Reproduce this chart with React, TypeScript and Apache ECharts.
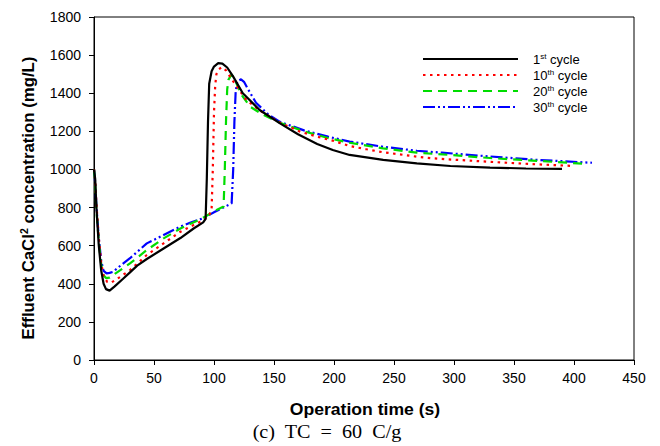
import React, { useEffect, useRef } from "react";
import * as echarts from "echarts";

const seriesNames = ["1st cycle", "10th cycle", "20th cycle", "30th cycle"];
const legendLabels = ["1{s|st} cycle", "10{s|th} cycle", "20{s|th} cycle", "30{s|th} cycle"];
const xTicks = [0, 450, 50];
const yTicks = [0, 1800, 200];

const c1x = [0, 1, 2, 4, 6, 8, 10, 13, 17, 24, 30, 36, 44, 58, 72, 83, 91, 93, 94, 95, 96, 98, 100, 103.5, 107, 111, 116, 124, 138, 155, 170, 186, 199, 213, 241, 269, 297, 330, 360, 390];
const c1y = [1000, 950, 800, 600, 470, 400, 372, 364, 385, 425, 460, 495, 530, 585, 640, 690, 722, 740, 950, 1250, 1450, 1515, 1540, 1558, 1555, 1535, 1487, 1400, 1312, 1242, 1185, 1134, 1102, 1076, 1050, 1032, 1018, 1010, 1005, 1003];

const c10x = [0, 1, 2, 4, 6, 8, 11, 14, 18, 22, 30, 44, 58, 72, 85, 91, 96, 98, 99, 100, 101, 102, 104, 106.5, 110, 116, 127, 138, 155, 172, 186, 199, 213, 227, 241, 255, 269, 283, 295, 330, 365, 400];
const c10y = [1000, 940, 820, 640, 510, 440, 410, 405, 420, 437, 472, 551, 612, 673, 715, 731, 760, 790, 1000, 1300, 1440, 1500, 1525, 1537, 1520, 1462, 1364, 1310, 1245, 1198, 1172, 1151, 1123, 1106, 1090, 1079, 1067, 1058, 1053, 1040, 1028, 1018];

const c20x = [0, 1, 2, 4, 6, 8, 10, 13, 18, 24, 30, 44, 58, 72, 85, 92.5, 100, 108, 109, 110, 111, 112, 114.5, 117, 122, 130, 140, 155, 175, 195, 213, 241, 269, 297, 330, 370, 408];
const c20y = [1000, 920, 790, 620, 500, 445, 430, 432, 455, 480, 507, 577, 638, 690, 728, 752, 780, 805, 1000, 1250, 1420, 1470, 1498, 1480, 1400, 1330, 1290, 1245, 1200, 1165, 1140, 1111, 1088, 1076, 1060, 1045, 1030];

const c30x = [0, 1, 2, 4, 6, 8, 10.5, 13, 16, 22, 30, 44, 58, 72, 80, 91, 100, 109, 114.7, 116, 117, 118, 119, 120, 122.5, 125, 128, 135, 145, 155, 175, 195, 213, 241, 269, 290, 330, 370, 415];
const c30y = [1000, 930, 810, 640, 520, 468, 455, 457, 463, 495, 534, 612, 656, 700, 720, 744, 775, 804, 822, 1000, 1250, 1400, 1450, 1465, 1473, 1460, 1425, 1350, 1290, 1250, 1205, 1172, 1146, 1119, 1098, 1088, 1068, 1050, 1035];

const colors = ["#000000", "#ff0000", "#00dd00", "#0000ff"];
const lineTypes: any[] = ["solid", [2.5, 4.5], [9, 6], [12, 3, 2, 3, 2, 3]];
const widths = [2.2, 2.2, 2.2, 2.2];

const zip = (xs: number[], ys: number[]) => xs.map((x, i) => [x, ys[i]]);

export default function App() {
  const ref = useRef<HTMLDivElement>(null);
  useEffect(() => {
    if (!ref.current) return;
    const chart = echarts.init(ref.current, undefined, { renderer: "svg" });
    const data = [zip(c1x, c1y), zip(c10x, c10y), zip(c20x, c20y), zip(c30x, c30y)];
    const font = "'Liberation Sans', Arial, sans-serif";
    chart.setOption({
      animation: false,
      backgroundColor: "#ffffff",
      grid: {
        left: 94,
        right: 26,
        top: 17,
        bottom: 86,
        containLabel: false,
        show: true,
        borderColor: "#000",
        borderWidth: 1,
        backgroundColor: "transparent",
      },
      legend: {
        orient: "vertical",
        left: 417,
        top: 47,
        itemWidth: 95,
        itemHeight: 12,
        itemGap: 2,
        data: seriesNames,
        itemStyle: { color: "transparent", borderColor: "transparent", borderWidth: 0, opacity: 0 },
        formatter: (name: string) => legendLabels[seriesNames.indexOf(name)],
        textStyle: {
          fontFamily: font,
          fontSize: 13,
          color: "#000",
          lineHeight: 14,
          padding: [0, 0, 0, 10],
          rich: {
            s: { fontSize: 8, verticalAlign: "top", lineHeight: 14, fontFamily: font, color: "#000" },
          },
        },
      },
      xAxis: {
        type: "value",
        min: xTicks[0],
        max: xTicks[1],
        interval: xTicks[2],
        splitLine: { show: false },
        axisLine: { onZero: false, lineStyle: { color: "#000", width: 1 } },
        axisTick: { show: true, length: 5, lineStyle: { color: "#000" } },
        axisLabel: { color: "#000", fontSize: 14, fontFamily: font, margin: 11 },
      },
      yAxis: {
        type: "value",
        min: yTicks[0],
        max: yTicks[1],
        interval: yTicks[2],
        splitLine: { show: false },
        axisLine: { show: true, onZero: false, lineStyle: { color: "#000", width: 1 } },
        axisTick: { show: true, length: 5, lineStyle: { color: "#000" } },
        axisLabel: { color: "#000", fontSize: 14, fontFamily: font, margin: 13, formatter: (v: number) => String(v) },
      },
      graphic: [
        {
          type: "text",
          x: 28,
          y: 198,
          rotation: Math.PI / 2,
          scaleX: 1.05,
          style: {
            text: "Effluent CaCl{s|2} concentration (mg/L)",
            fontFamily: font,
            fontSize: 16,
            fontWeight: "bold",
            fill: "#000",
            align: "center",
            verticalAlign: "middle",
            rich: {
              s: { fontSize: 10, fontWeight: "bold", verticalAlign: "top", fontFamily: font, fill: "#000" },
            },
          },
        },
        {
          type: "text",
          x: 365,
          y: 410,
          scaleX: 1.1,
          style: {
            text: "Operation time (s)",
            fontFamily: font,
            fontSize: 16,
            fontWeight: "bold",
            fill: "#000",
            align: "center",
            verticalAlign: "middle",
          },
        },
        {
          type: "text",
          x: 327,
          y: 432,
          scaleX: 1.12,
          style: {
            text: "(c)  TC  =  60  C/g",
            fontFamily: "'Liberation Serif', 'Times New Roman', serif",
            fontSize: 18,
            fill: "#000",
            align: "center",
            verticalAlign: "middle",
          },
        },
      ],
      series: seriesNames.map((name, i) => ({
        name,
        type: "line",
        data: data[i],
        showSymbol: false,
        symbol: "none",
        smooth: false,
        z: 10 - i,
        lineStyle: { color: colors[i], width: widths[i], type: lineTypes[i] },
        itemStyle: { color: colors[i] },
      })),
    });
    return () => chart.dispose();
  }, []);
  return <div ref={ref} style={{ width: 660, height: 446, position: "absolute", left: 0, top: 0 }} />;
}
